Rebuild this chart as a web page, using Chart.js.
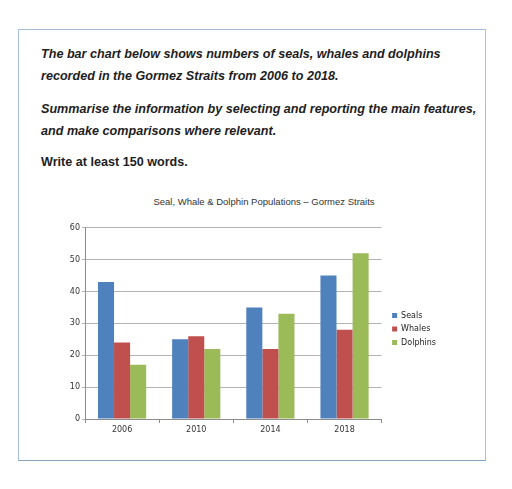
<!DOCTYPE html>
<html>
<head>
<meta charset="utf-8">
<script src="https://cdn.jsdelivr.net/npm/chart.js@4"></script>
<style>
  html, body { margin: 0; padding: 0; background: #fff; }
  body { width: 512px; height: 489px; position: relative; overflow: hidden; }
  .frame { position: absolute; left: 18px; top: 29px; width: 466px; height: 430px;
           border: 1.5px solid #a5c0de; border-bottom-color: #87a4c0; box-sizing: content-box; }
  .q { position: absolute; left: 41px; font-family: "Liberation Sans", Arial, sans-serif;
       font-weight: bold; font-style: italic; font-size: 12.6px; line-height: 15px; color: #1e1e1e; white-space: nowrap; }
  .w { font-style: normal; }
  .ctitle { position: absolute; left: 64px; width: 400px; top: 196px; text-align: center;
            font-family: "Liberation Sans", Arial, sans-serif; font-size: 9.5px; line-height: 11px; color: #333; }
  #wrap { position: absolute; left: 48px; top: 220.7px; width: 398px; height: 216px; }
</style>
</head>
<body>
<div class="frame"></div>
<div class="q" style="top:47px">The bar chart below shows numbers of seals, whales and dolphins</div>
<div class="q" style="top:69px">recorded in the Gormez Straits from 2006 to 2018.</div>
<div class="q" style="top:101.5px">Summarise the information by selecting and reporting the main features,</div>
<div class="q" style="top:123.5px">and make comparisons where relevant.</div>
<div class="q w" style="top:154.5px">Write at least 150 words.</div>
<div class="ctitle">Seal, Whale &amp; Dolphin Populations – Gormez Straits</div>
<div id="wrap"><canvas id="barChart"></canvas></div>
<script>
// chart data
const years = ['2006', '2010', '2014', '2018'];
const seals = [43, 25, 35, 45];
const whales = [24, 26, 22, 28];
const dolphins = [17, 22, 33, 52];
const yTicks = [0, 10, 20, 30, 40, 50, 60];

document.addEventListener('DOMContentLoaded', function(){
  const ctx = document.getElementById('barChart');
  const tickFont = { family: 'DejaVu Sans', size: 8 };

  new Chart(ctx, {
    type: 'bar',
    data: {
      labels: years,
      datasets: [
        { label: 'Seals', data: seals, backgroundColor: '#4f81bd' },
        { label: 'Whales', data: whales, backgroundColor: '#c0504d' },
        { label: 'Dolphins', data: dolphins, backgroundColor: '#9bbb59' }
      ]
    },
    options: {
      responsive: true,
      maintainAspectRatio: false,
      animation: false,
      layout: { padding: 0 },
      datasets: { bar: { categoryPercentage: 0.65, barPercentage: 1.0 } },
      plugins: {
        // empty title only keeps a small gap above the plot (real title is the html line above)
        title: { display: true, text: '', font: { size: 5 }, padding: 0 },
        tooltip: { enabled: false },
        legend: {
          position: 'right',
          align: 'center',
          labels: { boxWidth: 5, boxHeight: 5, padding: 5.5, color: '#222', font: { family: 'DejaVu Sans', size: 8 } }
        }
      },
      scales: {
        x: {
          afterFit: function(s){ s.height = 18; },
          grid: { display: true, drawOnChartArea: false, drawTicks: true, tickLength: 4, offset: true, color: '#8c8c8c' },
          border: { color: '#8c8c8c' },
          ticks: { color: '#333', font: tickFont, padding: 2 }
        },
        y: {
          min: yTicks[0],
          max: yTicks[yTicks.length - 1],
          afterFit: function(s){ s.width = 37; },
          afterBuildTicks: function(s){ s.ticks = yTicks.map(v => ({ value: v })); },
          grid: { color: '#b4b4b4', tickLength: 3 },
          border: { color: '#8c8c8c' },
          ticks: { color: '#333', font: tickFont, padding: 2 }
        },
        gap: {
          position: 'right',
          type: 'linear',
          display: true,
          afterFit: function(s){ s.width = 5; },
          grid: { display: false },
          border: { display: false },
          ticks: { display: false }
        }
      }
    }
  });
});
</script>
</body>
</html>
